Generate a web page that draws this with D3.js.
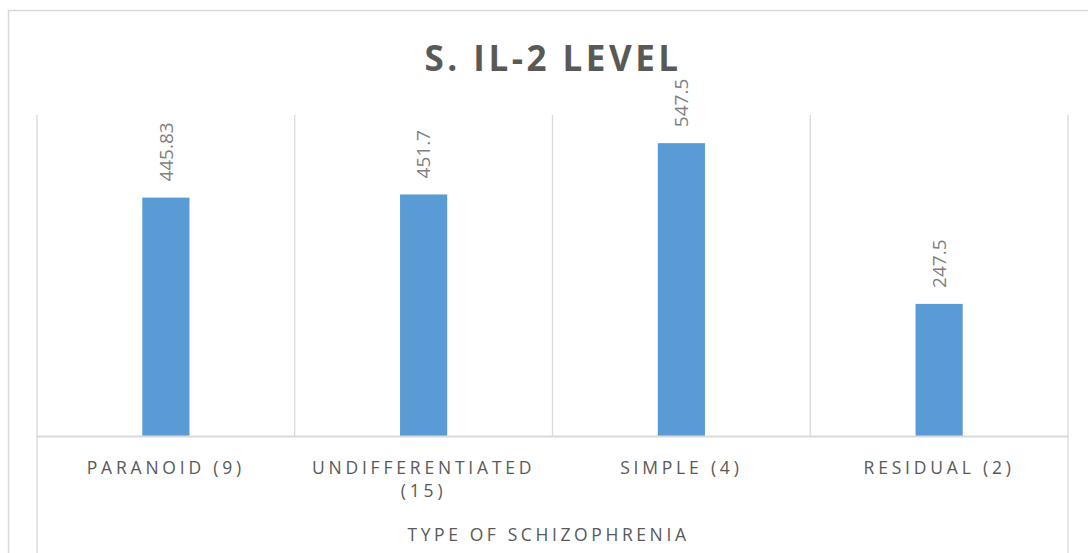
<!DOCTYPE html>
<html>
<head>
<meta charset="utf-8">
<script src="https://cdn.jsdelivr.net/npm/d3@7/dist/d3.min.js"></script>
<style>
  html, body { margin: 0; padding: 0; background: #fff; }
  svg { display: block; }
</style>
</head>
<body>
<svg id="chart" width="1088" height="553"></svg>
<script>
// ---- data ----
const categories = ["PARANOID (9)", "UNDIFFERENTIATED (15)", "SIMPLE (4)", "RESIDUAL (2)"];
const values = [445.83, 451.7, 547.5, 247.5];
const valueLabels = ["445.83", "451.7", "547.5", "247.5"];
const chartTitle = "S. IL-2 LEVEL";
const xAxisTitle = "TYPE OF SCHIZOPHRENIA";
const yDomain = [0, 600];

// ---- layout ----
const W = 1088, H = 553;
const plot = { left: 37, right: 1068, top: 115, bottom: 436.5 };
const barFrac = 0.183;
const gridColor = "#d9d9d9";
const textColor = "#595959";
const labelColor = "#7f7f7f";
const barColor = "#5b9bd5";
const font = "'Open Sans', 'DejaVu Sans', sans-serif";

const svg = d3.select("#chart");

// outer chart border (cropped)
svg.append("rect")
  .attr("x", 8.5).attr("y", 10.5)
  .attr("width", 1200).attr("height", 700)
  .attr("fill", "none").attr("stroke", gridColor).attr("stroke-width", 1.5);

const x = d3.scaleBand().domain(categories).range([plot.left, plot.right]).padding(0);
const y = d3.scaleLinear().domain(yDomain).range([plot.bottom, plot.top]);

// vertical gridlines at category boundaries
const bounds = categories.map(c => x(c)).concat([x(categories[categories.length - 1]) + x.bandwidth()]);
svg.append("g").selectAll("line").data(bounds).join("line")
  .attr("x1", d => d).attr("x2", d => d)
  .attr("y1", plot.top)
  .attr("y2", (d, i) => (i === 0 || i === bounds.length - 1) ? H : plot.bottom)
  .attr("stroke", gridColor).attr("stroke-width", 1.3);

// bars
const bw = x.bandwidth() * barFrac;
svg.append("g").selectAll("rect").data(values).join("rect")
  .attr("x", (d, i) => x(categories[i]) + x.bandwidth() / 2 - bw / 2)
  .attr("y", d => y(d))
  .attr("width", bw)
  .attr("height", d => y(0) - y(d))
  .attr("fill", barColor);

// x axis line
svg.append("line")
  .attr("x1", plot.left).attr("x2", plot.right)
  .attr("y1", plot.bottom).attr("y2", plot.bottom)
  .attr("stroke", gridColor).attr("stroke-width", 2);

// data labels (rotated)
svg.append("g").selectAll("text").data(values).join("text")
  .attr("transform", (d, i) => {
    const cx = x(categories[i]) + x.bandwidth() / 2;
    return `translate(${cx},${y(d) - 16}) rotate(-90)`;
  })
  .attr("dy", "0.36em")
  .attr("text-anchor", "start")
  .attr("font-family", font)
  .attr("font-size", 19)
  .attr("fill", labelColor)
  .text((d, i) => valueLabels[i]);

// category labels with wrapping
const catG = svg.append("g");
categories.forEach((c, i) => {
  const cx = x(c) + x.bandwidth() / 2;
  const t = catG.append("text")
    .attr("x", cx).attr("y", 474)
    .attr("text-anchor", "middle")
    .attr("font-family", font)
    .attr("font-size", 17.5)
    .attr("letter-spacing", 3.8)
    .attr("fill", textColor);
  const ts = t.append("tspan").attr("x", cx).text(c);
  if (ts.node().getComputedTextLength() > x.bandwidth() - 20) {
    const k = c.lastIndexOf(" ");
    ts.text(c.slice(0, k));
    t.append("tspan").attr("x", cx).attr("dy", 23).text(c.slice(k + 1));
  }
});

// axis title
svg.append("text")
  .attr("x", (plot.left + plot.right) / 2 - 4).attr("y", 541)
  .attr("text-anchor", "middle")
  .attr("font-family", font)
  .attr("font-size", 17.5)
  .attr("letter-spacing", 3.6)
  .attr("fill", textColor)
  .text(xAxisTitle);

// chart title
svg.append("text")
  .attr("x", 553).attr("y", 70.5)
  .attr("text-anchor", "middle")
  .attr("font-family", font)
  .attr("font-weight", "bold")
  .attr("font-size", 35)
  .attr("letter-spacing", 3.5)
  .attr("fill", textColor)
  .text(chartTitle);
</script>
</body>
</html>
